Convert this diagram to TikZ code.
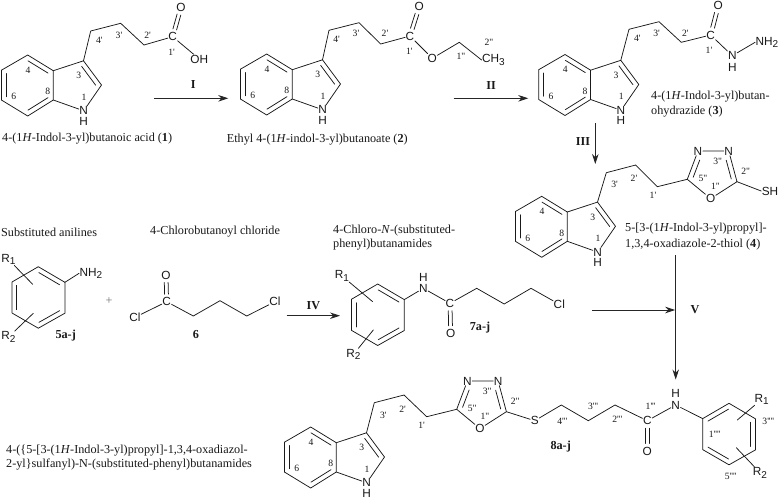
\documentclass[tikz,border=0pt]{standalone}
\usepackage{fontspec}
\usetikzlibrary{calc,arrows.meta}
\newfontfamily\capfam{Liberation Serif}
\newfontfamily\atomfam{Liberation Sans}
\newcounter{lb}
\tikzset{
  bond/.style={line width=0.75pt,black!90,line cap=round,line join=round},
  arrowline/.style={line width=0.85pt,black!85,-{Stealth[length=10pt,width=6.5pt]}},
  atom/.style={font=\atomfam\fontsize{11.8}{11.8}\selectfont,inner sep=0.4pt,black!90},
  numlab/.style={font=\capfam\fontsize{9.6}{10}\selectfont,inner sep=0pt,black!90},
  captext/.style={font=\capfam\fontsize{12.2}{14}\selectfont,inner sep=0pt,anchor=west,align=left,black!90},
  boldlab/.style={font=\capfam\bfseries\fontsize{12.2}{12.5}\selectfont,inner sep=0pt,black!90}
}
\newcommand{\subdn}[1]{\raisebox{-2.6pt}{\fontsize{10}{10}\selectfont #1}}
\newcommand{\lbl}[3]{\stepcounter{lb}\node[numlab] (lb\arabic{lb}) at (#1,#2) {#3};}
\newcommand{\innerf}[5]{\draw[bond] ($(#1)!#4!(#2)!4.8pt!#3:(#2)$) -- ($(#2)!#5!(#1)!4.8pt!-#3:(#1)$);}
\newcommand{\inner}[3]{\innerf{#1}{#2}{#3}{0.11}{0.11}}
\newcommand{\indole}[3]{%
  \begin{scope}[shift={(#2,#3)}]
    \coordinate (#1t) at (0,0);
    \coordinate (#1rt) at (25.6,15.7);
    \coordinate (#1rb) at (25.6,45);
    \coordinate (#1b) at (0,61);
    \coordinate (#1lb) at (-26.3,45);
    \coordinate (#1lt) at (-26.3,15.2);
    \coordinate (#1c3) at (55.8,5.8);
    \coordinate (#1c2) at (73.8,30);
    \node[atom] (#1N) at (56,55.8) {N};
    \node[atom] (#1H) at (56,66.3) {H};
    \draw[bond] (#1t)--(#1rt)--(#1rb)--(#1b)--(#1lb)--(#1lt)--cycle;
    \draw[bond] (#1rt)--(#1c3)--(#1c2)--(#1N)--(#1rb);
    \inner{#1t}{#1rt}{-90}
    \inner{#1rb}{#1b}{-90}
    \inner{#1lb}{#1lt}{-90}
    \inner{#1c3}{#1c2}{-90}
    \lbl{0.3}{15}{4}
    \lbl{51}{20.7}{3}
    \lbl{20}{36.7}{8}
    \lbl{-14}{41.7}{6}
    \lbl{56.3}{42}{1}
  \end{scope}}
\newcommand{\phring}[3]{%
  \begin{scope}[shift={(#2,#3)}]
    \coordinate (#1t) at (0,0);
    \coordinate (#1rt) at (26.6,15.6);
    \coordinate (#1rb) at (26.6,46.5);
    \coordinate (#1b) at (0,61.5);
    \coordinate (#1lb) at (-26.3,46.3);
    \coordinate (#1lt) at (-26.3,15.3);
    \draw[bond] (#1t)--(#1rt)--(#1rb)--(#1b)--(#1lb)--(#1lt)--cycle;
  \end{scope}}
\newcommand{\oxa}[3]{%
  \begin{scope}[shift={(#2,#3)}]
    \coordinate (#1c5) at (0,0);
    \node[atom] (#1na) at (10.7,-28.3) {N};
    \node[atom] (#1nb) at (41.4,-28.3) {N};
    \coordinate (#1c2) at (49.7,2.4);
    \node[atom] (#1o) at (23.3,19.3) {O};
    \draw[bond] (#1c5)--(#1na)--(#1nb)--(#1c2)--(#1o)--(#1c5);
    \innerf{#1c5}{#1na}{-90}{0.13}{0.26}
    \innerf{#1nb}{#1c2}{-90}{0.26}{0.13}
    \lbl{15.6}{-1.3}{5"}
    \lbl{28.2}{7.4}{1"}
    \lbl{30.5}{-18}{3"}
    \lbl{58.5}{-7.6}{2"}
  \end{scope}}
\newcommand{\dbo}[2]{%
  \draw[bond] ($(#1)!7.5pt!(#2)!1.9pt!90:(#2)$) -- ($(#2)!7.5pt!(#1)!1.9pt!-90:(#1)$);
  \draw[bond] ($(#1)!7.5pt!(#2)!1.9pt!-90:(#2)$) -- ($(#2)!7.5pt!(#1)!1.9pt!90:(#1)$);}
\begin{document}
\begin{tikzpicture}[x=1pt,y=-1pt]
\useasboundingbox (0,0) rectangle (779,499);
\fill[white] (0,0) rectangle (779,499);

% ---- compound 1
\indole{a}{27.7}{55}
\coordinate (a1) at (90.7,31);
\coordinate (a2) at (120.7,23.3);
\coordinate (a3) at (144,45);
\node[atom] (aC) at (172.7,36.7) {C};
\node[atom] (aO) at (181,7.3) {O};
\node[atom] (aOH) at (199.3,59) {OH};
\draw[bond] (ac3)--(a1)--(a2)--(a3)--(aC)--(aOH);
\dbo{aC}{aO}
\lbl{99.3}{40}{4'}
\lbl{119}{35}{3'}
\lbl{147.7}{35}{2'}
\lbl{171.7}{52.3}{1'}
\node[captext] (capa) at (2,139) {4-(1\textit{H}-Indol-3-yl)butanoic acid (\textbf{1})};

% ---- arrow I
\coordinate (s1) at (154.3,98.3);
\coordinate (e1) at (228.3,98.3);
\draw[arrowline] (s1) -- (e1);
\node[boldlab] (tI) at (193.3,85) {I};

% ---- compound 2
\indole{b}{266.7}{54}
\coordinate (b1) at (329,30.3);
\coordinate (b2) at (359,22.7);
\coordinate (b3) at (380.7,44);
\node[atom] (bC) at (410,36) {C};
\node[atom] (bO) at (419.3,6.7) {O};
\node[atom] (bOe) at (432.3,58.3) {O};
\coordinate (b4) at (459.3,42.3);
\node[atom] (bMe) at (493.5,60) {CH\subdn{3}};
\draw[bond] (bc3)--(b1)--(b2)--(b3)--(bC)--(bOe)--(b4)--(bMe.west);
\dbo{bC}{bO}
\lbl{336.7}{39.7}{4'}
\lbl{356}{33.3}{3'}
\lbl{385}{33.3}{2'}
\lbl{409.3}{51}{1'}
\lbl{461}{56.7}{1"}
\lbl{489}{42.7}{2"}
\node[captext] (capb) at (226.7,140) {Ethyl 4-(1\textit{H}-indol-3-yl)butanoate (\textbf{2})};

% ---- arrow II
\coordinate (s2) at (453.7,98.3);
\coordinate (e2) at (528.3,98.3);
\draw[arrowline] (s2) -- (e2);
\node[boldlab] (tII) at (491,86) {II};

% ---- compound 3
\indole{c}{565}{54.5}
\coordinate (c1) at (629,29.3);
\coordinate (c2) at (659,21.7);
\coordinate (c3) at (681.3,42.3);
\node[atom] (cC) at (710.7,35) {C};
\node[atom] (cO) at (718.3,5.7) {O};
\node[atom] (cN) at (732.3,55.7) {N};
\node[atom] (cH) at (732.3,67.7) {H};
\node[atom] (cNH) at (767,42.3) {NH\subdn{2}};
\draw[bond] (cc3)--(c1)--(c2)--(c3)--(cC)--(cN)--(cNH.west);
\dbo{cC}{cO}
\lbl{637.3}{38.7}{4'}
\lbl{656.7}{33.3}{3'}
\lbl{685.3}{33.3}{2'}
\lbl{709}{50.7}{1'}
\node[captext] (capc) at (651,104) {4-(1\textit{H}-Indol-3-yl)butan-\\[1pt]ohydrazide (\textbf{3})};

% ---- arrow III
\coordinate (s3) at (595.3,123);
\coordinate (e3) at (595.3,164);
\draw[arrowline] (s3) -- (e3);
\node[boldlab] (tIII) at (583,141.7) {III};

% ---- compound 4
\indole{d}{541.7}{196.3}
\coordinate (d1) at (606.3,172.7);
\coordinate (d2) at (635.7,165);
\coordinate (d3) at (657.3,186.7);
\oxa{e}{687.3}{179.3}
\node[atom] (eS) at (770,191) {SH};
\draw[bond] (dc3)--(d1)--(d2)--(d3)--(ec5);
\draw[bond] (ec2)--(eS.west);
\lbl{614.7}{184.3}{3'}
\lbl{634}{178.3}{2'}
\lbl{653}{195}{1'}
\node[captext] (capd) at (625,236.3) {5-[3-(1\textit{H}-Indol-3-yl)propyl]-\\[2pt]1,3,4-oxadiazole-2-thiol (\textbf{4})};

% ---- arrow V
\coordinate (s5) at (675.7,255);
\coordinate (e5) at (675.7,379.5);
\draw[arrowline] (s5) -- (e5);
\node[boldlab] (tV) at (695,310) {V};
\coordinate (s6) at (592.3,310);
\coordinate (e6) at (675.2,310);
\draw[arrowline] (s6) -- (e6);

% ---- compound 5
\node[captext] (cap5) at (1,232.7) {Substituted anilines};
\phring{f}{38.3}{266.7}
\inner{ft}{frt}{-90}
\inner{frb}{fb}{-90}
\inner{flb}{flt}{-90}
\node[atom] (fR1) at (8.5,259.5) {R\subdn{1}};
\node[atom] (fR2) at (8.5,337) {R\subdn{2}};
\coordinate (fe1) at (32.7,284.3);
\coordinate (fe2) at (33.3,313.3);
\draw[bond] (fR1)--(fe1);
\draw[bond] (fR2)--(fe2);
\node[atom] (fN) at (91,273.3) {NH\subdn{2}};
\draw[bond] (frt)--(fN.west);
\node[boldlab] (t5) at (65.7,335.7) {5a-j};
\node[font=\capfam\fontsize{12.2}{13}\selectfont,inner sep=0pt,black!55] (plus) at (109,300.7) {+};

% ---- compound 6
\node[captext] (cap6) at (150,231.7) {4-Chlorobutanoyl chloride};
\node[atom] (gCl) at (135,317.3) {Cl};
\node[atom] (gC) at (166.7,301.7) {C};
\node[atom] (gO) at (166,275) {O};
\coordinate (g1) at (193.3,316);
\coordinate (g2) at (220,300.7);
\coordinate (g3) at (246.7,316);
\node[atom] (gCl2) at (275,301.7) {Cl};
\draw[bond] (gCl)--(gC)--(g1)--(g2)--(g3)--(gCl2);
\dbo{gC}{gO}
\node[boldlab] (t6) at (196,335) {6};

% ---- arrow IV
\coordinate (s4) at (286.7,315.7);
\coordinate (e4) at (340,315.7);
\draw[arrowline] (s4) -- (e4);
\node[boldlab] (tIV) at (313.3,305.7) {IV};

% ---- compound 7
\node[captext] (cap7) at (333,237.2) {4-Chloro-\textit{N}-(substituted-\\phenyl)butanamides};
\phring{h}{377.7}{284}
\inner{ht}{hrt}{-90}
\inner{hrb}{hb}{-90}
\inner{hlb}{hlt}{-90}
\node[atom] (hR1) at (342,276) {R\subdn{1}};
\node[atom] (hR2) at (353.5,354.3) {R\subdn{2}};
\coordinate (he1) at (372.7,301.7);
\coordinate (he2) at (373.3,330);
\draw[bond] (hR1)--(he1);
\draw[bond] (hR2)--(he2);
\node[atom] (hN) at (423.3,288.3) {N};
\node[atom] (hH) at (423.3,277.5) {H};
\node[atom] (hC) at (450,303.3) {C};
\node[atom] (hO) at (450.7,333.3) {O};
\coordinate (h1) at (476.7,288.3);
\coordinate (h2) at (504.2,304);
\coordinate (h3) at (531,288.3);
\node[atom] (hCl) at (559.3,304.3) {Cl};
\draw[bond] (hrt)--(hN)--(hC)--(h1)--(h2)--(h3)--(hCl);
\dbo{hC}{hO}
\node[boldlab] (t7) at (480,327.7) {7a-j};

% ---- compound 8
\indole{i}{310.7}{427}
\coordinate (i1) at (374.3,402.7);
\coordinate (i2) at (404,395);
\coordinate (i3) at (426.7,416.7);
\oxa{j}{456.7}{409.3}
\node[atom] (jS) at (534.7,420.7) {S};
\coordinate (k1) at (561.3,405);
\coordinate (k2) at (588.3,420.7);
\coordinate (k3) at (615,405);
\node[atom] (kC) at (647.3,420.7) {C};
\node[atom] (kO) at (647.3,451) {O};
\node[atom] (kN) at (675.7,405) {N};
\node[atom] (kH) at (675.7,393.5) {H};
\phring{m}{729}{403.3}
\inner{mlt}{mt}{-90}
\inner{mrt}{mrb}{-90}
\inner{mb}{mlb}{-90}
\node[atom] (mR1) at (761.7,399.3) {R\subdn{1}};
\node[atom] (mR2) at (760,472.7) {R\subdn{2}};
\coordinate (me1) at (737.3,420);
\coordinate (me2) at (736.3,447.7);
\draw[bond] (mR1)--(me1);
\draw[bond] (mR2)--(me2);
\draw[bond] (ic3)--(i1)--(i2)--(i3)--(jc5);
\draw[bond] (jc2)--(jS)--(k1)--(k2)--(k3)--(kC)--(kN)--(mlt);
\dbo{kC}{kO}
\lbl{383.3}{415}{3'}
\lbl{402.7}{409}{2'}
\lbl{421.7}{425}{1'}
\lbl{562.3}{421.7}{4'''}
\lbl{593}{406}{3'''}
\lbl{617.3}{419.3}{2'''}
\lbl{650.7}{406.7}{1'''}
\lbl{714.7}{434}{1''''}
\lbl{768.3}{421.7}{3''''}
\lbl{730.7}{476}{5''''}
\node[boldlab] (t8) at (560.7,446.7) {8a-j};
\node[captext] (cap8) at (6,457.5) {4-(\{5-[3-(1\textit{H}-Indol-3-yl)propyl]-1,3,4-oxadiazol-\\2-yl\}sulfanyl)-N-(substituted-phenyl)butanamides};
\end{tikzpicture}
\end{document}
